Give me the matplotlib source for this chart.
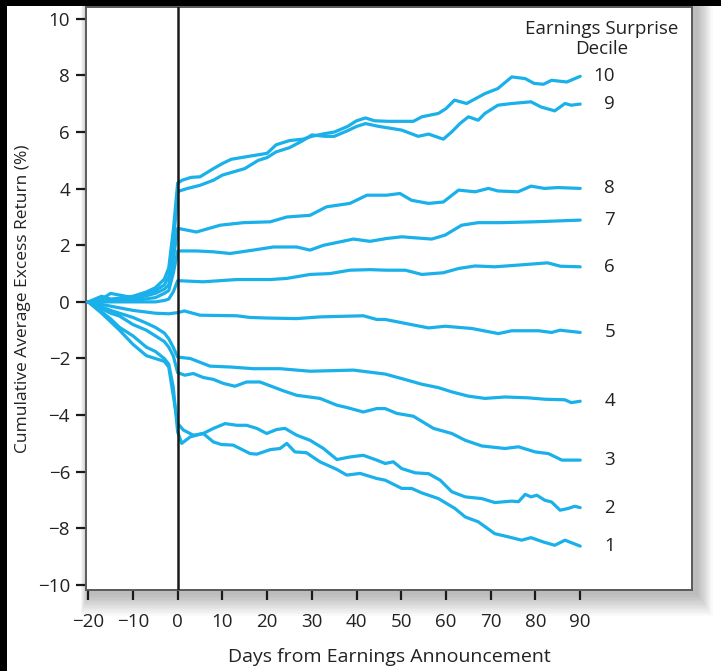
import matplotlib
matplotlib.use("Agg")
import matplotlib.pyplot as plt
from matplotlib.patches import Rectangle

plt.rcParams['font.family'] = ['Open Sans', 'DejaVu Sans']

# cumulative average excess return (%) by earnings surprise decile
days_10 = [-20, -17, -15, -12, -10, -7, -5, -3, -2, -1, 0, 1, 3, 5, 8, 10, 12, 15, 20, 22, 25, 28, 30, 33, 35,
           38, 40, 42, 44, 47, 49.4, 52.7, 54.6, 58.3, 60, 61.9, 64.6, 68.7, 71.6, 74.7, 77.7, 79.7, 81.8, 83.6, 87, 90]
ret_10 = [0, 0.2, 0.1, 0.15, 0.2, 0.35, 0.5, 0.8, 1.2, 2.5, 4.2, 4.3, 4.4, 4.42, 4.71, 4.89, 5.04, 5.12, 5.25, 5.55,
          5.7, 5.75, 5.85, 5.95, 6.0, 6.2, 6.4, 6.5, 6.4, 6.38, 6.38, 6.38, 6.54, 6.66, 6.83, 7.13, 7.01, 7.36, 7.54,
          7.95, 7.89, 7.72, 7.69, 7.83, 7.77, 7.97]

days_9 = [-20, -17, -15, -10, -5, -3, -2, -1, 0, 2, 5, 8, 10, 15, 18, 20, 22, 25, 28, 30, 33, 35, 38, 40, 42, 45, 47,
          50.1, 53.8, 56.1, 59.4, 61.3, 63.1, 65, 67.2, 68.7, 71.6, 74.7, 79, 81.2, 84.3, 86.6, 88, 90]
ret_9 = [0, 0.1, 0.3, 0.15, 0.4, 0.6, 0.9, 2.0, 3.9, 4.0, 4.12, 4.3, 4.48, 4.71, 5.0, 5.1, 5.3, 5.45, 5.7, 5.9, 5.85,
         5.85, 6.05, 6.2, 6.3, 6.2, 6.15, 6.07, 5.85, 5.93, 5.75, 6.01, 6.3, 6.54, 6.42, 6.66, 6.95, 7.01, 7.07, 6.89,
         6.75, 7.01, 6.95, 6.99]

days_8 = [-20, -15, -10, -5, -3, -2, -1, 0, 4.2, 9.5, 14.7, 20.7, 24.4, 29.6, 33.3, 38.5, 42.3, 46.7, 49.7, 52.3,
          56.1, 59.4, 62.8, 66.5, 69.5, 71.6, 76.1, 79, 82, 85, 90]
ret_8 = [0, 0.05, 0.1, 0.3, 0.45, 0.6, 1.5, 2.6, 2.47, 2.71, 2.8, 2.83, 3.0, 3.06, 3.36, 3.48, 3.77, 3.77, 3.83, 3.59,
         3.48, 3.53, 3.95, 3.89, 4.01, 3.92, 3.89, 4.09, 4.01, 4.04, 4.01]

days_7 = [-20, -15, -10, -5, -3, -2, -1, 0, 4.2, 8, 11.7, 16.9, 21.4, 26.6, 29.6, 32.6, 39.3, 43, 46.7, 50.1, 56.8,
          59.8, 63.5, 67.2, 72.3, 79.7, 90]
ret_7 = [0, 0.05, 0.05, 0.15, 0.3, 0.4, 1.0, 1.8, 1.8, 1.77, 1.71, 1.83, 1.94, 1.94, 1.83, 2.0, 2.22, 2.14, 2.24, 2.3,
         2.22, 2.36, 2.71, 2.8, 2.8, 2.83, 2.89]

days_6 = [-20, -15, -10, -5, -3, -2, -1, 0, 5.7, 13.2, 20.7, 24.4, 29.6, 34, 38.5, 43, 46.7, 50.9, 54.6, 59.4, 62.8,
          66.5, 70.9, 76.1, 82.7, 85.6, 90]
ret_6 = [0, 0.0, 0.0, 0.0, 0.05, 0.1, 0.35, 0.75, 0.71, 0.79, 0.79, 0.83, 0.97, 1.0, 1.12, 1.14, 1.12, 1.12, 0.97,
         1.03, 1.18, 1.27, 1.24, 1.3, 1.38, 1.26, 1.24]

days_5 = [-20, -15, -10, -5, -2, 0, 1.5, 5, 13.2, 16.2, 20, 26.6, 31.8, 41.5, 44.5, 46.4, 50.9, 56.1, 59.8, 65.8,
          71.7, 74.7, 80.7, 83.6, 85.5, 90]
ret_5 = [0, -0.15, -0.3, -0.4, -0.42, -0.38, -0.32, -0.47, -0.49, -0.55, -0.57, -0.59, -0.53, -0.49, -0.62, -0.62,
         -0.76, -0.92, -0.86, -0.94, -1.12, -1.02, -1.02, -1.08, -1.0, -1.08]

days_4 = [-20, -15, -10, -7, -5, -3, -2, -1, 0, 2.8, 7.2, 11.7, 16.9, 22.9, 29.6, 39.3, 46.4, 50.1, 54.6, 58.3,
          61.3, 65, 68.7, 73.2, 78.4, 82.1, 86.6, 88, 90]
ret_4 = [0, -0.3, -0.55, -0.75, -0.9, -1.1, -1.3, -1.6, -1.95, -2.0, -2.27, -2.3, -2.36, -2.36, -2.45, -2.41, -2.55,
         -2.71, -2.91, -3.03, -3.18, -3.33, -3.41, -3.36, -3.39, -3.44, -3.46, -3.56, -3.51]

days_3 = [-20, -15, -13, -10, -7, -5, -3, -2, -1, 0, 1.6, 3.5, 5.7, 8, 10.2, 12.8, 15.4, 18.4, 23.6, 26.6, 31.8,
          35.6, 37.8, 41.5, 44.5, 46.4, 49, 52.7, 57.2, 61.3, 64.3, 68, 73.2, 76.2, 79.9, 82.9, 85.9, 90]
ret_3 = [0, -0.4, -0.5, -0.8, -1.0, -1.2, -1.4, -1.6, -1.9, -2.5, -2.59, -2.53, -2.67, -2.74, -2.88, -2.98, -2.83,
         -2.83, -3.14, -3.3, -3.41, -3.65, -3.73, -3.89, -3.77, -3.77, -3.94, -4.04, -4.47, -4.65, -4.89, -5.09,
         -5.18, -5.12, -5.3, -5.36, -5.59, -5.59]

days_2 = [-20, -17, -15, -13, -10, -7, -5, -3, -2, -1, 0, 0.9, 2.8, 5.7, 8, 10.6, 13.2, 15.4, 17.7, 19.9, 22.1, 24,
          26.6, 29.6, 32.6, 35.6, 38.5, 41.5, 44.5, 46.4, 48.2, 50.1, 53.1, 56.1, 58.7, 61.3, 64.3, 68, 70.9, 74.7,
          76.2, 77.7, 79, 80.3, 82.1, 83.6, 85.5, 87.3, 88.8, 90]
ret_2 = [0, -0.35, -0.6, -0.9, -1.2, -1.6, -1.75, -2.0, -2.2, -3.0, -4.6, -5.0, -4.77, -4.65, -4.47, -4.3, -4.36,
         -4.36, -4.47, -4.65, -4.51, -4.47, -4.71, -4.89, -5.18, -5.57, -5.48, -5.42, -5.59, -5.71, -5.65, -5.89,
         -6.04, -6.07, -6.3, -6.71, -6.89, -6.95, -7.09, -7.04, -7.06, -6.8, -6.89, -6.83, -7.01, -7.07, -7.36, -7.3,
         -7.22, -7.27]

days_1 = [-20, -17, -15, -13, -10, -7, -5, -3, -2, -1, 0, 1.3, 3.5, 5.7, 8, 9.8, 12.4, 16.2, 17.7, 20.7, 22.9, 24.4,
          26.2, 28.8, 31.8, 35.6, 37.8, 40.8, 44.5, 46.4, 50.1, 52.3, 54.6, 58.3, 62, 64.3, 67.2, 70.9, 73.9, 76.9,
          79, 81.7, 84.3, 86.6, 90]
ret_1 = [0, -0.4, -0.7, -1.0, -1.5, -1.9, -2.0, -2.1, -2.3, -3.3, -4.3, -4.53, -4.71, -4.65, -4.95, -5.04, -5.06,
         -5.36, -5.38, -5.22, -5.18, -5.0, -5.3, -5.33, -5.65, -5.92, -6.12, -6.06, -6.24, -6.3, -6.59, -6.59,
         -6.75, -6.95, -7.3, -7.6, -7.77, -8.19, -8.3, -8.42, -8.33, -8.48, -8.6, -8.42, -8.63]

decile_labels = ['1', '2', '3', '4', '5', '6', '7', '8', '9', '10']
series = [(days_1, ret_1), (days_2, ret_2), (days_3, ret_3), (days_4, ret_4), (days_5, ret_5),
          (days_6, ret_6), (days_7, ret_7), (days_8, ret_8), (days_9, ret_9), (days_10, ret_10)]

xticks = [-20, -10, 0, 10, 20, 30, 40, 50, 60, 70, 80, 90]
yticks = [-10, -8, -6, -4, -2, 0, 2, 4, 6, 8, 10]

W, H = 721, 671
fig = plt.figure(figsize=(W / 100, H / 100), dpi=100)
fig.patch.set_facecolor('white')

# axes box in pixels
left, right, top, bottom = 86, 692, 7, 590
ax = fig.add_axes([left / W, 1 - bottom / H, (right - left) / W, (bottom - top) / H])

# soft drop shadow around the box
for i in range(14):
    grow = i * 1.6
    fig.patches.append(Rectangle(((left - 2 + 3 - grow * 0.3) / W, 1 - (bottom + 5 + grow) / H),
                                 (right - left + 5 + grow) / W, (bottom - top + 6 + grow) / H,
                                 transform=fig.transFigure, facecolor='#000000', alpha=0.018,
                                 edgecolor='none', zorder=-5))

# black strips at top and left edge of the scan
fig.patches.append(Rectangle((0, 1 - 6 / H), 1, 6 / H, transform=fig.transFigure,
                             facecolor='black', edgecolor='none', zorder=10))
fig.patches.append(Rectangle((0, 0), 7 / W, 1, transform=fig.transFigure,
                             facecolor='black', edgecolor='none', zorder=10))

blue = '#1AB0EA'
fs = 13.5
for (d, r), lab in zip(series, decile_labels):
    ax.plot(d, r, color=blue, lw=2.3, solid_joinstyle='round', solid_capstyle='round', zorder=3)
    ax.text(97.8, r[-1], lab, ha='right', va='center', fontsize=fs, color='#222222')

ax.axvline(0, color='#1a1a1a', lw=1.8, zorder=4)

ax.text(94.7, 9.3, 'Earnings Surprise\nDecile', ha='center', va='center', fontsize=13.5,
        color='#222222', linespacing=1.15)

ax.set_xlim(-20.5, 115)
ax.set_ylim(-10.18, 10.42)
ax.set_xticks(xticks)
ax.set_yticks(yticks)
ax.tick_params(axis='both', direction='out', length=7.5, width=1.6, color='#1a1a1a',
               labelsize=fs, labelcolor='#222222')
ax.tick_params(axis='x', pad=9)
ax.tick_params(axis='y', pad=4)

for s in ax.spines.values():
    s.set_color('#5a5a5a')
    s.set_linewidth(1.4)

ax.set_xlabel('Days from Earnings Announcement', fontsize=14, color='#222222', labelpad=12)
ax.set_ylabel('Cumulative Average Excess Return (%)', fontsize=12.5, color='#222222', labelpad=5)

fig.savefig('out.png', dpi=100)
